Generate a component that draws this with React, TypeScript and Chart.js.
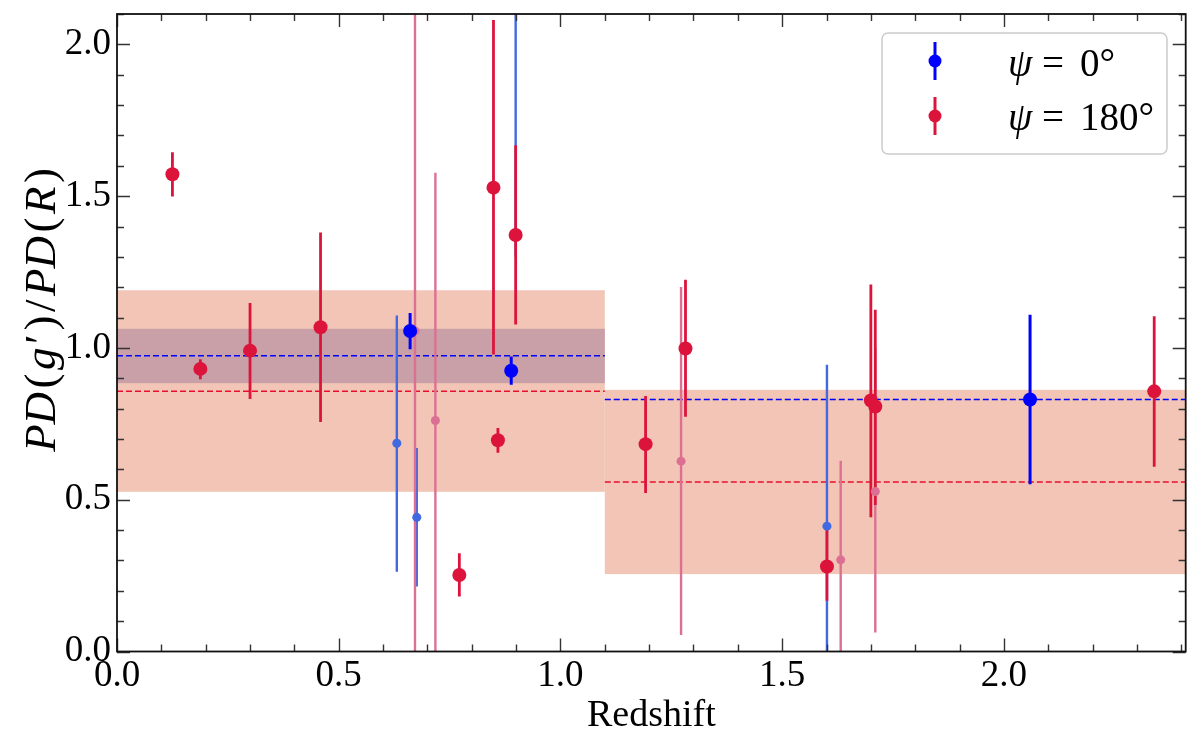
import React, { useEffect, useRef } from "react";
import { Chart, registerables } from "chart.js";

Chart.register(...registerables);

// ---- axes ----
const X_MIN = 0;
const X_MAX = 2.41;
const Y_MIN = 0;
const Y_MAX = 2.1;
const X_TICKS = [0, 0.5, 1.0, 1.5, 2.0];
const Y_TICKS = [0, 0.5, 1.0, 1.5, 2.0];
const MINOR_STEP = 0.1;
const X_TITLE = "Redshift";
const LEGEND_LABELS = ["ψ = 0°", "ψ = 180°"];

// ---- ψ = 0° (large blue) ----
const BLUE_X = [0.661, 0.889, 2.059];
const BLUE_Y = [1.056, 0.925, 0.83];
const BLUE_LO = [0.996, 0.879, 0.551];
const BLUE_HI = [1.115, 0.972, 1.109];

// ---- ψ = 180° (large red) ----
const RED_X = [0.125, 0.188, 0.3, 0.459, 0.772, 0.849, 0.859, 0.899, 1.192, 1.282, 1.601, 1.7, 1.71, 2.339];
const RED_Y = [1.572, 0.931, 0.991, 1.068, 0.252, 1.528, 0.696, 1.372, 0.683, 0.998, 0.28, 0.827, 0.807, 0.857];
const RED_LO = [1.499, 0.897, 0.832, 0.756, 0.181, 0.978, 0.655, 1.077, 0.522, 0.773, 0.167, 0.442, 0.483, 0.609];
const RED_HI = [1.645, 0.963, 1.148, 1.38, 0.324, 2.08, 0.736, 1.668, 0.842, 1.225, 0.4, 1.209, 1.126, 1.104];

// ---- ψ = 0° (small, light blue) ----
const BLUE_S_X = [0.631, 0.676, 0.899, 1.601];
const BLUE_S_Y = [0.686, 0.442, 1.372, 0.413];
const BLUE_S_LO = [0.263, 0.214, 1.3, -0.2];
const BLUE_S_HI = [1.107, 0.67, 2.6, 0.945];

// ---- ψ = 180° (small, pink) ----
const PINK_S_X = [0.672, 0.718, 1.272, 1.632, 1.71];
const PINK_S_Y = [1.056, 0.761, 0.627, 0.302, 0.527];
const PINK_S_LO = [-0.3, -0.3, 0.054, -0.3, 0.063];
const PINK_S_HI = [2.6, 1.577, 1.201, 0.628, 1.0];

// ---- binned means and bands ----
const BIN_EDGES = [0, 1.1, 2.41];
const RED_BAND_LO = [0.526, 0.255];
const RED_BAND_HI = [1.19, 0.862];
const BLUE_BAND_LO = [0.884, null];
const BLUE_BAND_HI = [1.063, null];
const BLUE_MEAN = [0.974, 0.83];
const RED_MEAN = [0.857, 0.558];

// ---- styles ----
const C_BLUE = "#0000ff";
const C_RED = "#dc143c";
const C_BLUE_S = "#4169e1";
const C_PINK_S = "#db7093";
const C_BAND = "#f2c5b6";
const C_BAND_DARK = "#c9a0a8";
const C_DASH_BLUE = "#0000ff";
const C_DASH_RED = "#e8102c";
const SERIF = "'Liberation Serif'";

type Series = { xs: number[]; ys: number[]; lo: number[]; hi: number[]; color: string; width: number };

const BAR_SERIES: Series[] = [
  { xs: BLUE_S_X, ys: BLUE_S_Y, lo: BLUE_S_LO, hi: BLUE_S_HI, color: C_BLUE_S, width: 2.4 },
  { xs: PINK_S_X, ys: PINK_S_Y, lo: PINK_S_LO, hi: PINK_S_HI, color: C_PINK_S, width: 2.4 },
  { xs: BLUE_X, ys: BLUE_Y, lo: BLUE_LO, hi: BLUE_HI, color: C_BLUE, width: 3 },
  { xs: RED_X, ys: RED_Y, lo: RED_LO, hi: RED_HI, color: C_RED, width: 2.8 },
];

const toPts = (xs: number[], ys: number[]) => xs.map((v, i) => ({ x: v, y: ys[i] }));

const customPlugin = {
  id: "custom",
  beforeDatasetsDraw(chart: any) {
    const { ctx, chartArea: a, scales } = chart;
    const x = scales.x;
    const y = scales.y;
    ctx.save();
    ctx.beginPath();
    ctx.rect(a.left, a.top, a.right - a.left, a.bottom - a.top);
    ctx.clip();
    for (let i = 0; i < BIN_EDGES.length - 1; i++) {
      const x0 = x.getPixelForValue(BIN_EDGES[i]);
      const x1 = i === BIN_EDGES.length - 2 ? a.right : x.getPixelForValue(BIN_EDGES[i + 1]);
      ctx.fillStyle = C_BAND;
      const t = y.getPixelForValue(RED_BAND_HI[i]);
      const b = y.getPixelForValue(RED_BAND_LO[i]);
      ctx.fillRect(x0, t, x1 - x0, b - t);
      const blo = BLUE_BAND_LO[i];
      const bhi = BLUE_BAND_HI[i];
      if (blo !== null && bhi !== null) {
        const t2 = y.getPixelForValue(bhi);
        const b2 = y.getPixelForValue(blo);
        ctx.fillStyle = C_BAND_DARK;
        ctx.fillRect(x0, t2, x1 - x0, b2 - t2);
      }
    }
    ctx.lineWidth = 1.5;
    ctx.setLineDash([6, 3]);
    for (let i = 0; i < BIN_EDGES.length - 1; i++) {
      const x0 = x.getPixelForValue(BIN_EDGES[i]);
      const x1 = i === BIN_EDGES.length - 2 ? a.right : x.getPixelForValue(BIN_EDGES[i + 1]);
      const pairs: [number, string][] = [
        [BLUE_MEAN[i], C_DASH_BLUE],
        [RED_MEAN[i], C_DASH_RED],
      ];
      for (const [v, c] of pairs) {
        const py = y.getPixelForValue(v);
        ctx.strokeStyle = c;
        ctx.beginPath();
        ctx.moveTo(x0, py);
        ctx.lineTo(x1, py);
        ctx.stroke();
      }
    }
    ctx.setLineDash([]);
    ctx.lineCap = "butt";
    for (const s of BAR_SERIES) {
      ctx.strokeStyle = s.color;
      ctx.lineWidth = s.width;
      for (let i = 0; i < s.xs.length; i++) {
        const px = x.getPixelForValue(s.xs[i]);
        ctx.beginPath();
        ctx.moveTo(px, y.getPixelForValue(s.lo[i]));
        ctx.lineTo(px, y.getPixelForValue(s.hi[i]));
        ctx.stroke();
      }
    }
    ctx.restore();
  },
  afterDatasetsDraw(chart: any) {
    const { ctx, chartArea: a, scales } = chart;
    const x = scales.x;
    const y = scales.y;
    ctx.save();
    ctx.strokeStyle = "#333";
    ctx.lineWidth = 1.4;
    const isMajor = (v: number, majors: number[]) => majors.some((m) => Math.abs(m - v) < 1e-6);
    for (let k = 0; k * MINOR_STEP <= X_MAX + 1e-9; k++) {
      const v = +(k * MINOR_STEP).toFixed(6);
      const px = Math.round(x.getPixelForValue(v)) + 0.5;
      const len = isMajor(v, X_TICKS) ? 13 : 7;
      ctx.beginPath();
      ctx.moveTo(px, a.bottom);
      ctx.lineTo(px, a.bottom - len);
      ctx.moveTo(px, a.top);
      ctx.lineTo(px, a.top + len);
      ctx.stroke();
    }
    for (let k = 0; k * MINOR_STEP <= Y_MAX + 1e-9; k++) {
      const v = +(k * MINOR_STEP).toFixed(6);
      const py = Math.round(y.getPixelForValue(v)) + 0.5;
      const len = isMajor(v, Y_TICKS) ? 13 : 7;
      ctx.beginPath();
      ctx.moveTo(a.left, py);
      ctx.lineTo(a.left + len, py);
      ctx.moveTo(a.right, py);
      ctx.lineTo(a.right - len, py);
      ctx.stroke();
    }
    ctx.strokeStyle = "#111";
    ctx.lineWidth = 1.8;
    ctx.strokeRect(a.left, a.top, a.right - a.left, a.bottom - a.top);

    ctx.fillStyle = "#000";
    ctx.font = `38px ${SERIF}`;
    ctx.textAlign = "center";
    ctx.textBaseline = "alphabetic";
    ctx.fillText(X_TITLE, (a.left + a.right) / 2, 726);

    const pieces: [string, boolean][] = [
      ["PD", true], ["(", false], ["g", true], ["′", false], [")", false], ["/", false],
      ["PD", true], ["(", false], ["R", true], [")", false],
    ];
    const GAP = 3.5;
    const fontI = `italic 45px ${SERIF}`;
    const fontN = `45px ${SERIF}`;
    let total = 0;
    const widths = pieces.map(([t, it]) => {
      ctx.font = it ? fontI : fontN;
      const w = ctx.measureText(t).width;
      total += w;
      return w;
    });
    total += GAP * (pieces.length - 1);
    ctx.save();
    ctx.translate(55, 310);
    ctx.rotate(-Math.PI / 2);
    ctx.textAlign = "left";
    let cx = -total / 2;
    pieces.forEach(([t, it], i) => {
      ctx.font = it ? fontI : fontN;
      ctx.fillText(t, cx, 0);
      cx += widths[i] + GAP;
    });
    ctx.restore();

    const L = { x: 882, y: 33, w: 285, h: 121 };
    ctx.fillStyle = "rgba(255,255,255,0.85)";
    ctx.strokeStyle = "#cccccc";
    ctx.lineWidth = 1.5;
    ctx.beginPath();
    (ctx as any).roundRect(L.x, L.y, L.w, L.h, 6);
    ctx.fill();
    ctx.stroke();
    const rows = [
      { color: C_BLUE, cy: 61, base: 76 },
      { color: C_RED, cy: 116, base: 130 },
    ];
    rows.forEach((r, i) => {
      const mx = L.x + 53;
      ctx.strokeStyle = r.color;
      ctx.lineWidth = 3;
      ctx.beginPath();
      ctx.moveTo(mx, r.cy - 19);
      ctx.lineTo(mx, r.cy + 19);
      ctx.stroke();
      ctx.fillStyle = r.color;
      ctx.beginPath();
      ctx.arc(mx, r.cy, 6.5, 0, Math.PI * 2);
      ctx.fill();
      const [sym, val] = LEGEND_LABELS[i].split(" = ");
      ctx.fillStyle = "#000";
      ctx.textAlign = "left";
      ctx.font = `italic 39px ${SERIF}`;
      ctx.fillText(sym, L.x + 126, r.base);
      ctx.font = `39px ${SERIF}`;
      ctx.fillText("=", L.x + 160, r.base);
      ctx.fillText(val, L.x + 198, r.base);
    });
    ctx.restore();
  },
};

export default function App() {
  const ref = useRef<HTMLCanvasElement | null>(null);
  useEffect(() => {
    if (!ref.current) return;
    const chart = new Chart(ref.current, {
      type: "scatter",
      data: {
        datasets: [
          { label: "ψ = 180°", data: toPts(RED_X, RED_Y), backgroundColor: C_RED, pointRadius: 7, pointHoverRadius: 7, borderWidth: 0, order: 1 },
          { label: "ψ = 0°", data: toPts(BLUE_X, BLUE_Y), backgroundColor: C_BLUE, pointRadius: 7, pointHoverRadius: 7, borderWidth: 0, order: 2 },
          { label: "ψ = 180° (low)", data: toPts(PINK_S_X, PINK_S_Y), backgroundColor: C_PINK_S, pointRadius: 4.5, pointHoverRadius: 4.5, borderWidth: 0, order: 3 },
          { label: "ψ = 0° (low)", data: toPts(BLUE_S_X, BLUE_S_Y), backgroundColor: C_BLUE_S, pointRadius: 4.5, pointHoverRadius: 4.5, borderWidth: 0, order: 4 },
        ] as any,
      },
      options: {
        animation: false,
        responsive: false,
        devicePixelRatio: 1,
        layout: { padding: { left: 0, top: 14, right: 14.3, bottom: 0 } },
        plugins: { legend: { display: false }, tooltip: { enabled: false } },
        scales: {
          x: {
            type: "linear",
            min: X_MIN,
            max: X_MAX,
            grid: { display: false, drawTicks: false },
            border: { display: false },
            afterBuildTicks: (s: any) => { s.ticks = X_TICKS.map((v) => ({ value: v })); },
            afterFit: (s: any) => { s.height = 96.5; s.paddingLeft = 0; s.paddingRight = 0; },
            ticks: {
              autoSkip: false,
              maxRotation: 0,
              padding: 3,
              color: "#000",
              font: { family: SERIF, size: 37 },
              callback: (v: any) => Number(v).toFixed(1),
            },
          },
          y: {
            type: "linear",
            min: Y_MIN,
            max: Y_MAX,
            grid: { display: false, drawTicks: false },
            border: { display: false },
            afterBuildTicks: (s: any) => { s.ticks = Y_TICKS.map((v) => ({ value: v })); },
            afterFit: (s: any) => { s.width = 117; s.paddingTop = 0; s.paddingBottom = 0; },
            ticks: {
              autoSkip: false,
              padding: 6,
              color: "#000",
              font: { family: SERIF, size: 37 },
              callback: (v: any) => Number(v).toFixed(1),
            },
          },
        },
      } as any,
      plugins: [customPlugin],
    });
    return () => chart.destroy();
  }, []);
  return (
    <div style={{ position: "fixed", left: 0, top: 0, width: 1200, height: 748, background: "#fff" }}>
      <canvas ref={ref} width={1200} height={748} style={{ width: 1200, height: 748, display: "block" }} />
    </div>
  );
}
